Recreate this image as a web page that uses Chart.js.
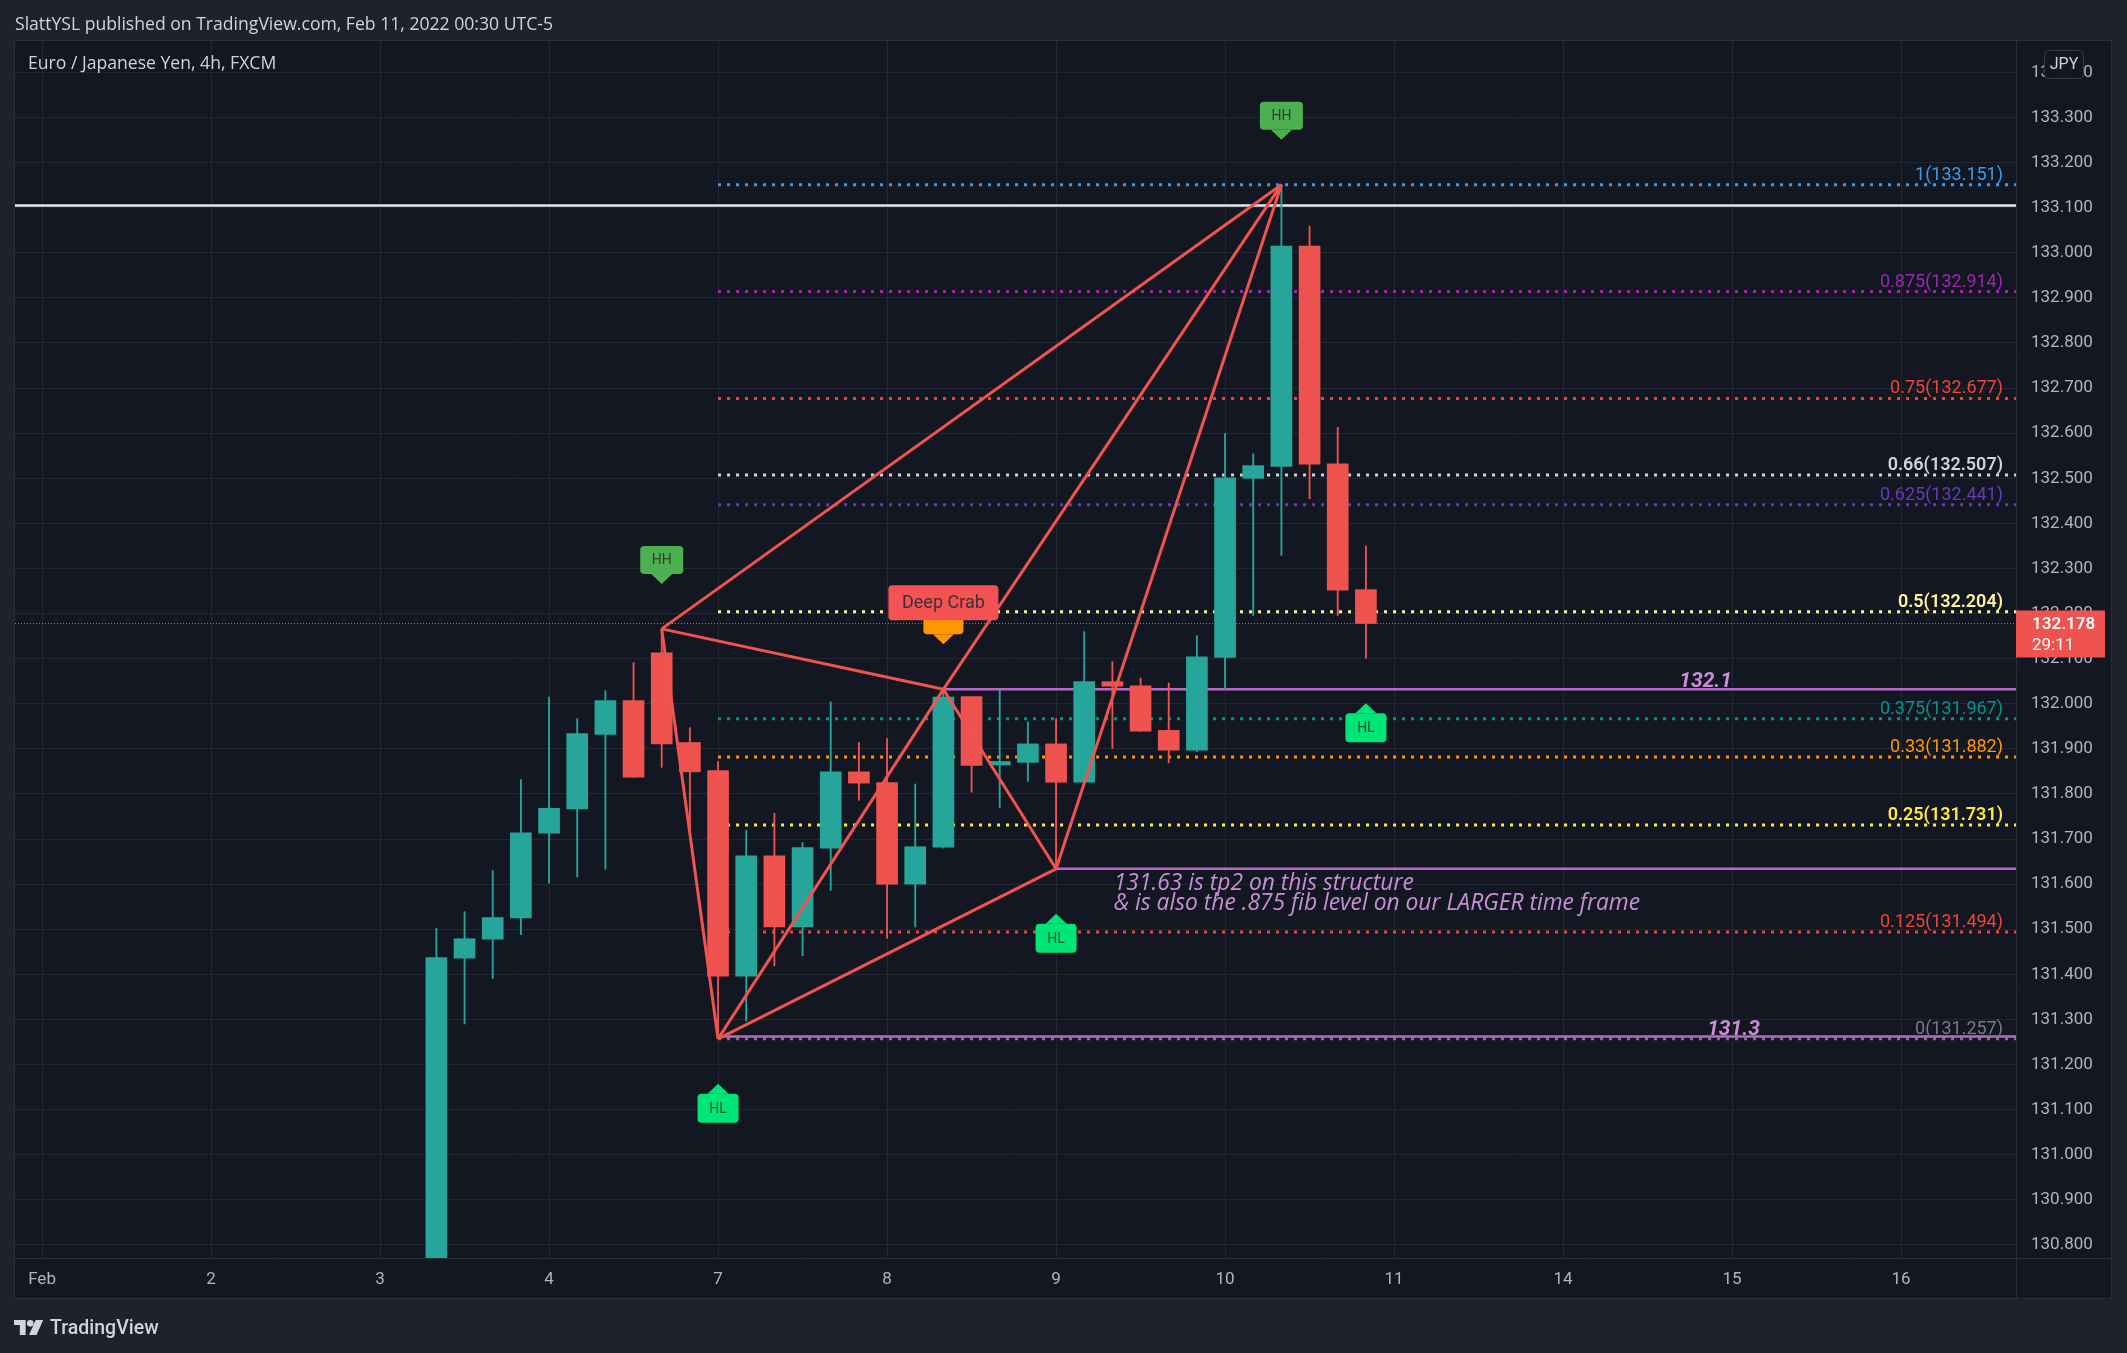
<!DOCTYPE html>
<html>
<head>
<meta charset="utf-8">
<title>EURJPY 4h - Deep Crab</title>
<script src="https://cdn.jsdelivr.net/npm/chart.js@4.4.0/dist/chart.umd.min.js"></script>
<style>
  html, body { margin: 0; padding: 0; background: #1e222d; }
  body { width: 2127px; height: 1353px; position: relative; overflow: hidden; font-family: Roboto, 'Noto Sans', sans-serif; }
  #hdr { position: absolute; left: 15px; top: 11px; color: #d1d4dc; font-family: 'Open Sans', sans-serif; font-size: 17.6px; line-height: 24px; }
  #ftr { position: absolute; left: 14px; top: 1313px; height: 28px; color: #d1d4dc; font-size: 19.5px; font-weight: 500; display: flex; align-items: center; gap: 6px; }
  canvas { position: absolute; left: 0; top: 0; }
</style>
</head>
<body>
<canvas id="eurjpy" width="2127" height="1353"></canvas>
<div id="hdr">SlattYSL published on TradingView.com, Feb 11, 2022 00:30 UTC-5</div>
<div id="ftr">
  <svg width="30" height="17" viewBox="0 0 36 20"><path fill="#d1d4dc" d="M0 1h14v18H7V7H0z"/><circle fill="#d1d4dc" cx="19.5" cy="5" r="4"/><path fill="#d1d4dc" d="M26 1h9l-8 18h-9z"/></svg>
  <span>TradingView</span>
</div>
<script>
// 4h bars, x = bar number counted from Feb 1 00:00 (6 bars per trading day)
const barIdx = [14, 15, 16, 17, 18, 19, 20, 21, 22, 23, 24, 25, 26, 27, 28, 29, 30,
                31, 32, 33, 34, 35, 36, 37, 38, 39, 40, 41, 42, 43, 44, 45, 46, 47];
const opens  = [130.450, 131.436, 131.478, 131.525, 131.713, 131.767, 131.932, 132.007, 132.113, 131.914,
                131.852, 131.396, 131.663, 131.505, 131.680, 131.849, 131.825, 131.600, 131.682, 132.016,
                131.864, 131.870, 131.911, 131.826, 132.049, 132.040, 131.941, 131.897, 132.103, 132.500,
                132.526, 133.015, 132.532, 132.253];
const highs  = [131.502, 131.539, 131.630, 131.832, 132.015, 131.967, 132.029, 132.091, 132.166, 131.947,
                131.872, 131.719, 131.757, 131.692, 132.004, 131.914, 131.923, 131.822, 132.032, 132.016,
                132.031, 131.960, 131.967, 132.160, 132.093, 132.057, 132.046, 132.151, 132.599, 132.554,
                133.151, 133.059, 132.613, 132.350];
const lows   = [130.400, 131.290, 131.391, 131.488, 131.602, 131.616, 131.633, 131.837, 131.859, 131.725,
                131.257, 131.296, 131.419, 131.441, 131.586, 131.786, 131.480, 131.505, 131.680, 131.804,
                131.770, 131.828, 131.634, 131.826, 131.901, 131.939, 131.869, 131.894, 132.031, 132.196,
                132.329, 132.455, 132.196, 132.101];
const closes = [131.437, 131.479, 131.526, 131.714, 131.768, 131.934, 132.007, 131.837, 131.911, 131.849,
                131.396, 131.663, 131.505, 131.681, 131.849, 131.824, 131.600, 131.683, 132.015, 131.863,
                131.872, 131.911, 131.826, 132.049, 132.039, 131.939, 131.897, 132.104, 132.501, 132.528,
                133.015, 132.531, 132.252, 132.178];

const dayTicks  = [0, 6, 12, 18, 24, 30, 36, 42, 48, 54, 60, 66];
const dayLabels = ['Feb', '2', '3', '4', '7', '8', '9', '10', '11', '14', '15', '16'];

// harmonic points X A B C D
const patIdx   = [22, 24, 32, 36, 44];
const patPrice = [132.166, 131.257, 132.032, 131.634, 133.151];
const patSegs  = [[0, 1], [1, 2], [2, 3], [3, 4], [0, 2], [2, 4], [1, 3], [0, 4]];
const patName  = 'Deep Crab';

// fib retracement drawn from A to D
const fibRatios = ['1', '0.875', '0.75', '0.66', '0.625', '0.5', '0.375', '0.33', '0.25', '0.125', '0'];
const fibPrices = [133.151, 132.914, 132.677, 132.507, 132.441, 132.204, 131.967, 131.882, 131.731, 131.494, 131.257];
const fibColors = ['#3d9be9', '#9c27b0', '#f44336', '#d1d4dc', '#673ab7', '#fff59d', '#009688', '#ff9800', '#ffeb3b', '#f44336', '#787b86'];
const fibBold   = [false, false, false, true, false, true, false, false, true, false, false];

// user horizontal lines
const hlPrice = [132.032, 131.634, 131.262];
const hlStart = [32, 36, 24];
const hlText  = ['132.1', '', '131.3'];
const hlTextAt = [59.06, 0, 60.05];
const noteAt = 38.05;
const noteLines = ['131.63 is tp2 on this structure', '& is also the .875 fib level on our LARGER time frame'];
const whiteLevel = 133.105;

// swing markers
const mkIdx   = [22, 44, 24, 36, 47];
const mkPrice = [132.166, 133.151, 131.257, 131.634, 132.101];
const mkText  = ['HH', 'HH', 'HL', 'HL', 'HL'];

const lastPrice = 132.178;
const countdown = '29:11';

const X_MIN = -0.96, X_MAX = 70.08;
const UP = '#26a69a', DOWN = '#ef5350';
const FONT = "Roboto, 'Noto Sans', sans-serif";
const TEXT_FONT = "'Open Sans', Roboto, sans-serif";

const candleColors = opens.map((o, i) => closes[i] >= o ? UP : DOWN);

const datasets = [];
patSegs.forEach(s => {
  datasets.push({
    type: 'line', order: 0,
    data: [{x: patIdx[s[0]], y: patPrice[s[0]]}, {x: patIdx[s[1]], y: patPrice[s[1]]}],
    borderColor: '#f05350', borderWidth: 3, pointRadius: 0, fill: false
  });
});
datasets.push({
  type: 'bar', order: 1, grouped: false, barThickness: 21,
  data: barIdx.map((x, i) => ({x: x, y: [opens[i], closes[i]]})),
  backgroundColor: candleColors
});
datasets.push({
  type: 'bar', order: 2, grouped: false, barThickness: 1.2,
  data: barIdx.map((x, i) => ({x: x, y: [lows[i], highs[i]]})),
  backgroundColor: candleColors
});
hlPrice.forEach((p, i) => {
  datasets.push({
    type: 'line', order: 3,
    data: [{x: hlStart[i], y: p}, {x: X_MAX, y: p}],
    borderColor: '#ba68c8', borderWidth: 2.5, pointRadius: 0, fill: false
  });
});
fibPrices.forEach((p, i) => {
  datasets.push({
    type: 'line', order: 4,
    data: [{x: patIdx[1], y: p}, {x: X_MAX, y: p}],
    borderColor: fibColors[i], borderWidth: 3, borderDash: [3, 6], pointRadius: 0, fill: false
  });
});
datasets.push({
  type: 'line', order: 4,
  data: [{x: X_MIN, y: whiteLevel}, {x: X_MAX, y: whiteLevel}],
  borderColor: '#e6e8ee', borderWidth: 2.5, pointRadius: 0, fill: false
});
datasets.push({
  type: 'line', order: 5,
  data: [{x: X_MIN, y: lastPrice}, {x: X_MAX, y: lastPrice}],
  borderColor: '#ef5350', borderWidth: 1, borderDash: [1, 2], pointRadius: 0, fill: false
});

function tag(ctx, cx, tipY, dir, w, h, color, text, font, textColor) {
  // dir -1: box above the tip, arrow pointing down; dir 1: box below, arrow up
  const ah = 10, aw = 10.5;
  const near = tipY + dir * ah;
  const top = dir < 0 ? near - h : near;
  ctx.fillStyle = color;
  ctx.beginPath();
  ctx.roundRect(cx - w / 2, top, w, h, 4);
  ctx.fill();
  ctx.beginPath();
  ctx.moveTo(cx - aw, near);
  ctx.lineTo(cx + aw, near);
  ctx.lineTo(cx, tipY);
  ctx.closePath();
  ctx.fill();
  if (text) {
    ctx.fillStyle = textColor;
    ctx.font = font;
    ctx.textAlign = 'center';
    ctx.textBaseline = 'middle';
    ctx.fillText(text, cx, top + h / 2 + 1);
  }
}

const overlay = {
  id: 'overlay',
  beforeDraw(chart) {
    const ctx = chart.ctx;
    ctx.save();
    ctx.fillStyle = '#131722';
    ctx.fillRect(14, 40, 2098, 1259);
    ctx.restore();
  },
  afterDatasetsDraw(chart) {
    const {ctx, chartArea: a, scales: {x, y}} = chart;
    ctx.save();

    ctx.fillStyle = '#d1d4dc';
    ctx.font = '17.6px ' + TEXT_FONT;
    ctx.textAlign = 'left';
    ctx.textBaseline = 'middle';
    ctx.fillText('Euro / Japanese Yen, 4h, FXCM', 28, 64);

    // fib labels
    ctx.textAlign = 'right';
    ctx.textBaseline = 'alphabetic';
    fibPrices.forEach((p, i) => {
      ctx.font = (fibBold[i] ? '600 ' : '') + '18px ' + FONT;
      ctx.fillStyle = fibColors[i];
      ctx.fillText(fibRatios[i] + '(' + p.toFixed(3) + ')', a.right - 13, y.getPixelForValue(p) - 5);
    });

    // purple line labels
    ctx.fillStyle = '#c98fd6';
    ctx.textAlign = 'center';
    ctx.font = 'italic bold 21px ' + FONT;
    hlPrice.forEach((p, i) => {
      if (hlText[i]) ctx.fillText(hlText[i], x.getPixelForValue(hlTextAt[i]), y.getPixelForValue(p) - 2);
    });
    ctx.textAlign = 'left';
    ctx.font = 'italic 22.8px ' + TEXT_FONT;
    const ny = y.getPixelForValue(hlPrice[1]);
    noteLines.forEach((t, k) => ctx.fillText(t, x.getPixelForValue(noteAt), ny + 21 + k * 20));

    // swing markers
    mkIdx.forEach((m, i) => {
      const cx = x.getPixelForValue(m);
      const py = y.getPixelForValue(mkPrice[i]);
      if (mkText[i] === 'HH') tag(ctx, cx, py - 45, -1, 43, 28, '#4caf50', 'HH', '14px ' + FONT, 'rgba(30,40,35,0.8)');
      else tag(ctx, cx, py + 45, 1, 41, 29, '#00e676', 'HL', '14px ' + FONT, 'rgba(30,40,35,0.8)');
    });

    // pattern name
    const bx = x.getPixelForValue(patIdx[2]);
    const by = y.getPixelForValue(patPrice[2]);
    tag(ctx, bx, by - 45, -1, 40, 28, '#ff9800', '', '', '');
    ctx.fillStyle = '#f55353';
    ctx.beginPath();
    ctx.roundRect(bx - 55, by - 104, 110, 35, 4);
    ctx.fill();
    ctx.fillStyle = 'rgba(35,38,50,0.85)';
    ctx.font = '18px ' + FONT;
    ctx.textAlign = 'center';
    ctx.textBaseline = 'middle';
    ctx.fillText(patName, bx, by - 86);

    ctx.restore();
  },
  afterDraw(chart) {
    const {ctx, chartArea: a, scales: {y}} = chart;
    ctx.save();
    ctx.strokeStyle = '#2a2e39';
    ctx.lineWidth = 1;
    ctx.beginPath();
    ctx.moveTo(a.right + 0.5, 40); ctx.lineTo(a.right + 0.5, 1299);
    ctx.moveTo(14, a.bottom + 0.5); ctx.lineTo(2112, a.bottom + 0.5);
    ctx.stroke();
    ctx.strokeRect(14.5, 40.5, 2097, 1258);

    // last price box
    const py = y.getPixelForValue(lastPrice);
    ctx.fillStyle = '#ef5350';
    ctx.fillRect(a.right, py - 13, 89, 47);
    ctx.fillStyle = '#ffffff';
    ctx.textAlign = 'left';
    ctx.textBaseline = 'middle';
    ctx.font = '600 17px ' + FONT;
    ctx.fillText(lastPrice.toFixed(3), a.right + 16, py + 1);
    ctx.font = '17px ' + FONT;
    ctx.fillText(countdown, a.right + 16, py + 22);

    // currency badge
    ctx.fillStyle = '#131722';
    ctx.strokeStyle = '#363a45';
    ctx.beginPath();
    ctx.roundRect(2044.5, 50.5, 39, 28, 4);
    ctx.fill();
    ctx.stroke();
    ctx.fillStyle = '#d1d4dc';
    ctx.textAlign = 'center';
    ctx.font = '16px ' + FONT;
    ctx.fillText('JPY', 2064, 65);
    ctx.restore();
  }
};

new Chart('eurjpy', {
  type: 'bar',
  data: { datasets: datasets },
  options: {
    responsive: false,
    animation: false,
    devicePixelRatio: 1,
    layout: { padding: { left: 15, top: 41, right: 15, bottom: 54 } },
    plugins: { legend: { display: false }, tooltip: { enabled: false } },
    scales: {
      x: {
        type: 'linear', min: X_MIN, max: X_MAX, offset: false,
        grid: { color: '#232733', drawTicks: false, offset: false },
        border: { display: false },
        afterBuildTicks: s => { s.ticks = dayTicks.map(v => ({value: v})); },
        afterFit: s => { s.height = 41; },
        ticks: {
          color: '#b2b5be', font: { family: FONT, size: 17 }, padding: 12,
          maxRotation: 0, autoSkip: false,
          callback: (v, i) => dayLabels[i]
        }
      },
      y: {
        type: 'linear', position: 'right', min: 130.771, max: 133.4696,
        grid: { color: '#232733', drawTicks: false },
        border: { display: false },
        afterFit: s => { s.width = 96; },
        ticks: {
          stepSize: 0.1, includeBounds: false, autoSkip: false,
          color: '#b2b5be', font: { family: FONT, size: 17 }, padding: 15,
          callback: v => v.toFixed(3)
        }
      }
    }
  },
  plugins: [overlay]
});
</script>
</body>
</html>
